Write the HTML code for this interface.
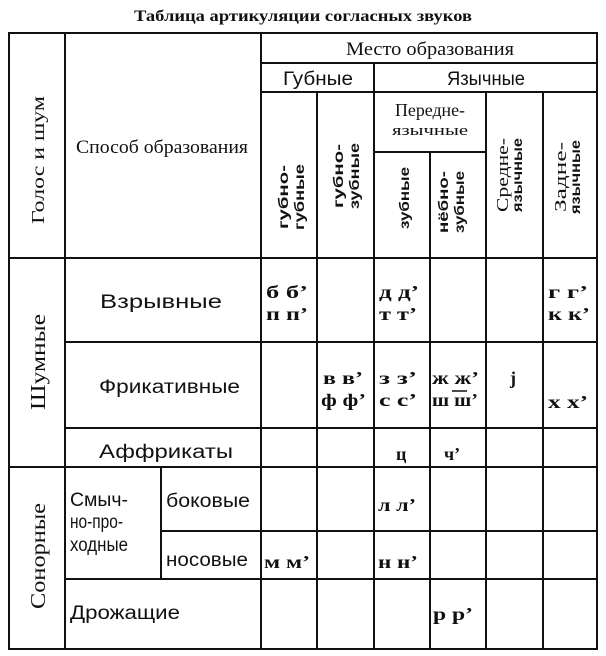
<!DOCTYPE html>
<html><head><meta charset="utf-8"><style>
html,body{margin:0;padding:0;background:#fff;}
svg{display:block;}
text{font-family:"Liberation Serif",serif;fill:#111;}
text.s{font-family:"Liberation Sans",sans-serif;font-weight:bold;font-size:14px;}
text.c{font-size:18px;font-weight:bold;}
text.l{font-size:19px;font-family:"Liberation Sans",sans-serif;}
</style></head><body>
<svg width="606" height="656" viewBox="0 0 606 656" xmlns="http://www.w3.org/2000/svg">
<text x="303" y="21" text-anchor="middle" font-weight="bold" font-size="16" font-family="Liberation Sans" textLength="338" lengthAdjust="spacingAndGlyphs">Таблица артикуляции согласных звуков</text>
<g stroke="#111" stroke-width="2" fill="none">
<rect x="9" y="33" width="588" height="616"/>
<line x1="65" y1="33" x2="65" y2="649"/>
<line x1="261" y1="33" x2="261" y2="649"/>
<line x1="261" y1="63" x2="597" y2="63"/>
<line x1="261" y1="92" x2="597" y2="92"/>
<line x1="374" y1="63" x2="374" y2="649"/>
<line x1="317" y1="92" x2="317" y2="649"/>
<line x1="374" y1="152" x2="486" y2="152"/>
<line x1="430" y1="152" x2="430" y2="649"/>
<line x1="486" y1="92" x2="486" y2="649"/>
<line x1="543" y1="92" x2="543" y2="649"/>
<line x1="9" y1="258" x2="597" y2="258"/>
<line x1="65" y1="342" x2="597" y2="342"/>
<line x1="65" y1="428" x2="597" y2="428"/>
<line x1="9" y1="467" x2="597" y2="467"/>
<line x1="161" y1="467" x2="161" y2="579"/>
<line x1="161" y1="531" x2="597" y2="531"/>
<line x1="65" y1="579" x2="597" y2="579"/>
</g>
<text x="430" y="55" text-anchor="middle" font-size="19" textLength="168" lengthAdjust="spacingAndGlyphs">Место образования</text>
<text x="318" y="85" text-anchor="middle" class="l" textLength="70" lengthAdjust="spacingAndGlyphs">Губные</text>
<text x="486" y="85" text-anchor="middle" class="l" textLength="78" lengthAdjust="spacingAndGlyphs">Язычные</text>
<text x="430" y="116" text-anchor="middle" font-size="18" textLength="70" lengthAdjust="spacingAndGlyphs">Передне-</text>
<text x="430" y="135" text-anchor="middle" font-size="15" font-family="Liberation Sans" textLength="76" lengthAdjust="spacingAndGlyphs">язычные</text>
<text x="76" y="153" font-size="19" font-family="Liberation Sans" textLength="172" lengthAdjust="spacingAndGlyphs">Способ образования</text>
<text transform="translate(44,160) rotate(-90)" text-anchor="middle" font-size="18" textLength="128" lengthAdjust="spacingAndGlyphs">Голос и шум</text>
<g text-anchor="middle">
<text class="s" transform="translate(288,197) rotate(-90)" textLength="64" lengthAdjust="spacingAndGlyphs">губно-</text>
<text class="s" transform="translate(304,197) rotate(-90)" textLength="66" lengthAdjust="spacingAndGlyphs">губные</text>
<text class="s" transform="translate(343,176) rotate(-90)" textLength="64" lengthAdjust="spacingAndGlyphs">губно-</text>
<text class="s" transform="translate(359,176) rotate(-90)" textLength="66" lengthAdjust="spacingAndGlyphs">зубные</text>
<text class="s" transform="translate(409,198) rotate(-90)" textLength="62" lengthAdjust="spacingAndGlyphs">зубные</text>
<text class="s" transform="translate(448,202) rotate(-90)" textLength="62" lengthAdjust="spacingAndGlyphs">нёбно-</text>
<text class="s" transform="translate(464,202) rotate(-90)" textLength="62" lengthAdjust="spacingAndGlyphs">зубные</text>
<text transform="translate(508,175) rotate(-90)" font-size="17" font-family="Liberation Sans" textLength="74" lengthAdjust="spacingAndGlyphs">Средне-</text>
<text class="s" transform="translate(522,175) rotate(-90)" textLength="74" lengthAdjust="spacingAndGlyphs">язычные</text>
<text transform="translate(566,177) rotate(-90)" font-size="17" font-family="Liberation Sans" textLength="70" lengthAdjust="spacingAndGlyphs">Задне-</text>
<text class="s" transform="translate(580,177) rotate(-90)" textLength="74" lengthAdjust="spacingAndGlyphs">язычные</text>
</g>
<text transform="translate(45,362) rotate(-90)" text-anchor="middle" font-size="21" textLength="96" lengthAdjust="spacingAndGlyphs">Шумные</text>
<text transform="translate(45,556) rotate(-90)" text-anchor="middle" font-size="21" font-family="Liberation Sans" textLength="106" lengthAdjust="spacingAndGlyphs">Сонорные</text>
<text x="100" y="308" class="l" textLength="122" lengthAdjust="spacingAndGlyphs">Взрывные</text>
<text x="99" y="393" class="l" textLength="141" lengthAdjust="spacingAndGlyphs">Фрикативные</text>
<text x="99" y="458" class="l" textLength="134" lengthAdjust="spacingAndGlyphs">Аффрикаты</text>
<text x="70" y="506" class="l" textLength="58" lengthAdjust="spacingAndGlyphs">Смыч-</text>
<text x="70" y="528" class="l" textLength="53" lengthAdjust="spacingAndGlyphs">но-про-</text>
<text x="70" y="551" class="l" textLength="58" lengthAdjust="spacingAndGlyphs">ходные</text>
<text x="166" y="507" class="l" textLength="84" lengthAdjust="spacingAndGlyphs">боковые</text>
<text x="166" y="566" class="l" textLength="82" lengthAdjust="spacingAndGlyphs">носовые</text>
<text x="70" y="619" class="l" textLength="110" lengthAdjust="spacingAndGlyphs">Дрожащие</text>
<g>
<text class="c" x="266" y="298" textLength="42" lengthAdjust="spacingAndGlyphs">б б’</text><text class="c" x="266" y="320" textLength="42" lengthAdjust="spacingAndGlyphs">п п’</text>
<text class="c" x="379" y="298" textLength="40" lengthAdjust="spacingAndGlyphs">д д’</text><text class="c" x="379" y="320" textLength="38" lengthAdjust="spacingAndGlyphs">т т’</text>
<text class="c" x="548" y="298" textLength="40" lengthAdjust="spacingAndGlyphs">г г’</text><text class="c" x="548" y="320" textLength="42" lengthAdjust="spacingAndGlyphs">к к’</text>
<text class="c" x="323" y="384" textLength="40" lengthAdjust="spacingAndGlyphs">в в’</text><text class="c" x="321" y="406" textLength="45" lengthAdjust="spacingAndGlyphs">ф ф’</text>
<text class="c" x="379" y="384" textLength="38" lengthAdjust="spacingAndGlyphs">з з’</text><text class="c" x="379" y="406" textLength="38" lengthAdjust="spacingAndGlyphs">с с’</text>
<text class="c" x="432" y="384" textLength="47" lengthAdjust="spacingAndGlyphs">ж ж’</text><text class="c" x="432" y="406" textLength="46" lengthAdjust="spacingAndGlyphs">ш ш’</text>
<text class="c" x="510" y="384">j</text>
<text class="c" x="548" y="408" textLength="40" lengthAdjust="spacingAndGlyphs">х х’</text>
<text class="c" x="396" y="460">ц</text><text class="c" x="444" y="460">ч’</text>
<text class="c" x="378" y="511" textLength="38" lengthAdjust="spacingAndGlyphs">л л’</text>
<text class="c" x="264" y="568" textLength="46" lengthAdjust="spacingAndGlyphs">м м’</text><text class="c" x="378" y="568" textLength="40" lengthAdjust="spacingAndGlyphs">н н’</text>
<text class="c" x="433" y="620" textLength="40" lengthAdjust="spacingAndGlyphs">р р’</text>
</g>
<line x1="452" y1="391" x2="467" y2="391" stroke="#111" stroke-width="1.5"/>
</svg>
</body></html>
